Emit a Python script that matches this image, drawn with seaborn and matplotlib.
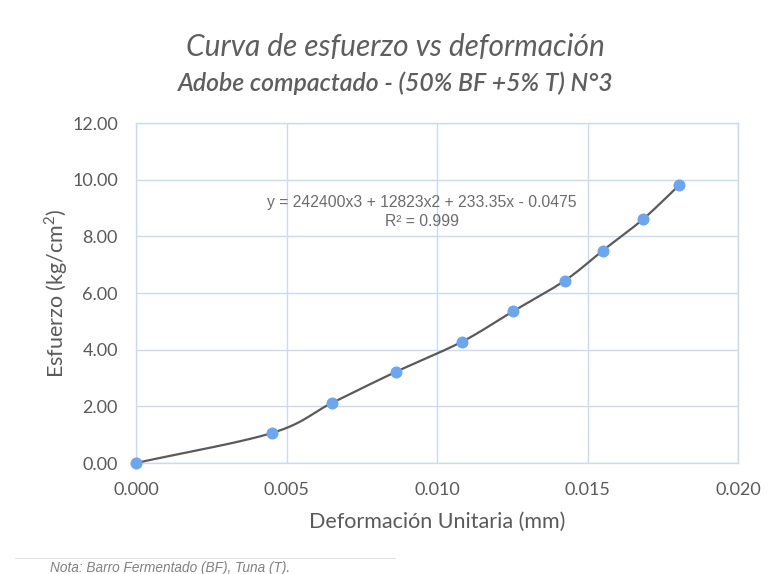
import numpy as np
import pandas as pd
import matplotlib
matplotlib.use("Agg")
import matplotlib.pyplot as plt
import seaborn as sns

# Data
deformacion = [0.0, 0.00452, 0.00651, 0.00864, 0.01083, 0.01252, 0.01425, 0.01551, 0.01684, 0.01804]
esfuerzo = [0.0, 1.06, 2.12, 3.22, 4.28, 5.35, 6.44, 7.50, 8.60, 9.80]
x_ticks = [0.000, 0.005, 0.010, 0.015, 0.020]
y_ticks = [0.0, 2.0, 4.0, 6.0, 8.0, 10.0, 12.0]

title = "Curva de esfuerzo vs deformación"
subtitle = "Adobe compactado - (50% BF +5% T) N°3"
xlabel = "Deformación Unitaria (mm)"
ylabel = "Esfuerzo (kg/cm$^2$)"
equation = "y = 242400x3 + 12823x2 + 233.35x - 0.0475"
r2 = "R² = 0.999"
nota = "Nota: Barro Fermentado (BF), Tuna (T)."

df = pd.DataFrame({"x": deformacion, "y": esfuerzo})

sns.set_theme(style="white")
plt.rcParams["font.family"] = ["Lato", "DejaVu Sans"]
plt.rcParams["mathtext.fontset"] = "custom"
plt.rcParams["mathtext.rm"] = "Lato"

fig = plt.figure(figsize=(7.72, 5.74), dpi=100)
ax = fig.add_axes([136 / 772, 1 - 463 / 574, (738 - 136) / 772, (463 - 123) / 574])

# smoothed line (Catmull-Rom through the data points, like Excel's smoothed line)
px = np.array(deformacion)
py = np.array(esfuerzo)
P = np.column_stack([px / 0.020, py / 12.0])
Pe = np.vstack([P[0] - (P[1] - P[0]), P, P[-1] + (P[-1] - P[-2])])
curve = []
t = np.linspace(0, 1, 25)
for i in range(1, len(Pe) - 2):
    p0, p1, p2, p3 = Pe[i - 1], Pe[i], Pe[i + 1], Pe[i + 2]
    seg = 0.5 * ((2 * p1)[None, :] + (-p0 + p2)[None, :] * t[:, None]
                 + (2 * p0 - 5 * p1 + 4 * p2 - p3)[None, :] * t[:, None] ** 2
                 + (-p0 + 3 * p1 - 3 * p2 + p3)[None, :] * t[:, None] ** 3)
    curve.append(seg)
curve = np.vstack(curve)
sm = pd.DataFrame({"x": curve[:, 0] * 0.020, "y": curve[:, 1] * 12.0})
sns.lineplot(data=sm, x="x", y="y", ax=ax, color="#5a5a5a", linewidth=1.6, sort=False, zorder=3)
sns.scatterplot(data=df, x="x", y="y", ax=ax, color="#6ea6ee", s=75, edgecolor="#6ea6ee",
                linewidth=0, zorder=4, clip_on=False)

ax.set_xlim(0, 0.020)
ax.set_ylim(0, 12)
ax.set_xticks(x_ticks)
ax.set_yticks(y_ticks)
ax.set_xticklabels([f"{v:.3f}" for v in x_ticks])
ax.set_yticklabels([f"{v:.2f}" for v in y_ticks])
ax.tick_params(axis="both", length=0, labelsize=13, labelcolor="#5a5a5a")
ax.tick_params(axis="x", pad=14)
ax.tick_params(axis="y", pad=13)
ax.grid(True, color="#cbdaf0", linewidth=1.0)
for s in ax.spines.values():
    s.set_color("#cbdaf0")
    s.set_linewidth(1.0)

ax.set_xlabel(xlabel, fontsize=15.5, color="#5a5a5a", labelpad=10)
ax.set_ylabel(ylabel, fontsize=15.5, color="#5a5a5a")
ax.yaxis.set_label_coords((70 - 136) / 602, 0.5)

fig.text(0.512, 1 - 47 / 574, title, ha="center", va="center", fontsize=21.5,
         style="italic", color="#5e5e5e")
fig.text(0.512, 1 - 83 / 574, subtitle, ha="center", va="center", fontsize=17.8,
         style="italic", fontweight="semibold", color="#5e5e5e")

ax.text(0.0095, 9.18, equation, ha="center", va="center", fontsize=11.3,
        color="#6b6b6b", family=["Liberation Sans", "DejaVu Sans"], zorder=5)
ax.text(0.0095, 8.54, r2, ha="center", va="center", fontsize=11.3,
        color="#6b6b6b", family=["Liberation Sans", "DejaVu Sans"], zorder=5)

fig.add_artist(plt.Line2D([15 / 772, 395 / 772], [1 - 558 / 574, 1 - 558 / 574],
                          color="#e3e3e3", linewidth=0.8))
fig.text(50 / 772, 1 - 568 / 574, nota, ha="left", va="center", fontsize=9.8,
         style="italic", color="#808080", family=["Liberation Sans", "DejaVu Sans"])

fig.savefig("out.png", dpi=100)
